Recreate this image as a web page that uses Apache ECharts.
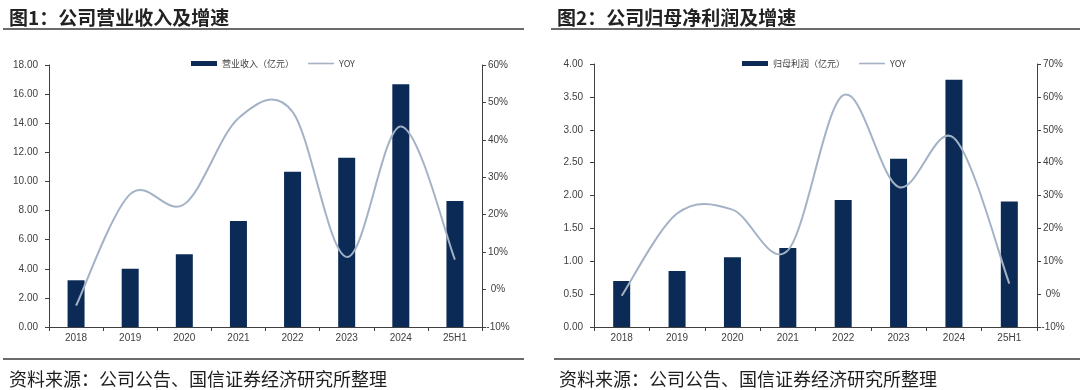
<!DOCTYPE html>
<html>
<head>
<meta charset="utf-8">
<script src="https://cdn.jsdelivr.net/npm/echarts@6/dist/echarts.min.js"></script>
<style>
html,body{margin:0;padding:0;background:#fff;}
#c{width:1080px;height:390px;}
</style>
</head>
<body>
<div id="c"></div>
<script>
const categories = ['2018','2019','2020','2021','2022','2023','2024','25H1'];
const revenue = [3.21, 4.01, 5.00, 7.29, 10.66, 11.63, 16.67, 8.65];
const revenueYoy = [-4.3, 25.5, 22.8, 45.8, 47.5, 8.7, 43.6, 8.0];
const profit = [0.70, 0.85, 1.06, 1.20, 1.93, 2.56, 3.76, 1.91];
const profitYoy = [-0.5, 24.5, 25.7, 13.3, 60.5, 32.6, 47.5, 3.2];
const title1 = '图1：公司营业收入及增速';
const title2 = '图2：公司归母净利润及增速';
const source = '资料来源：公司公告、国信证券经济研究所整理';
const barName1 = '营业收入（亿元）';
const barName2 = '归母利润（亿元）';
const lineName = 'YOY';

const BAR = '#0b2a56';
const LINE = '#a3b3c5';
const AX = '#404040';
const LAB = '#404040';
const LF = 'Liberation Sans, Arial, sans-serif';
const CJK = 'Noto Sans CJK SC';

function yLeft(grid, min, max, interval, digits){
  return {type:'value', gridIndex:grid, min:min, max:max, interval:interval, position:'left',
    axisLine:{show:true, lineStyle:{color:AX, width:1}},
    axisTick:{show:true, length:4, lineStyle:{color:AX}},
    splitLine:{show:false},
    axisLabel:{color:LAB, fontFamily:LF, fontSize:10, margin:11, formatter:v=>v.toFixed(digits)}};
}
function yRight(grid, min, max, interval){
  return {type:'value', gridIndex:grid, min:min, max:max, interval:interval, position:'right',
    axisLine:{show:true, lineStyle:{color:AX, width:1}},
    axisTick:{show:true, length:4, lineStyle:{color:AX}},
    splitLine:{show:false},
    axisLabel:{color:LAB, fontFamily:LF, fontSize:10, margin:16, align:'center', formatter:v=>v+'%'}};
}
function xAx(grid){
  return {type:'category', gridIndex:grid, data:categories, boundaryGap:true,
    axisLine:{show:true, lineStyle:{color:AX, width:1}},
    axisTick:{show:true, length:4, alignWithLabel:false, lineStyle:{color:AX}},
    axisLabel:{color:LAB, fontFamily:LF, fontSize:10, margin:6}};
}

// Smooth (Catmull-Rom style) curve through the data points, via the axes' scales
function smoothRender(params, api){
  const i = params.dataIndexInside;
  const n = params.dataInsideLength;
  if (i >= n - 1) return null;
  const pt = k => api.coord([api.value(0, k), api.value(1, k)]);
  const p1 = pt(i), p2 = pt(i + 1);
  const p0 = i > 0 ? pt(i - 1) : p1;
  const p3 = i + 2 < n ? pt(i + 2) : p2;
  return {
    type:'bezierCurve',
    shape:{
      x1:p1[0], y1:p1[1], x2:p2[0], y2:p2[1],
      cpx1:p1[0] + (p2[0] - p0[0]) / 6, cpy1:p1[1] + (p2[1] - p0[1]) / 6,
      cpx2:p2[0] - (p3[0] - p1[0]) / 6, cpy2:p2[1] - (p3[1] - p1[1]) / 6
    },
    style:{stroke:LINE, lineWidth:2, fill:null}
  };
}
function lineSeries(xi, yi, vals){
  return {name:lineName, type:'custom', xAxisIndex:xi, yAxisIndex:yi, z:5, clip:false,
    data:vals.map((v, k) => [k, v]), encode:{x:0, y:1},
    renderItem:smoothRender, itemStyle:{color:LINE}};
}

const lineIcon = 'path://M0 0H26V1.6H0Z';

const chart = echarts.init(document.getElementById('c'));
chart.setOption({
  animation:false,
  backgroundColor:'#fff',
  title:[
    {text:title1, left:4, top:3, textStyle:{fontFamily:CJK, fontSize:19, fontWeight:'bold', color:'#222'}},
    {text:title2, left:552, top:3, textStyle:{fontFamily:CJK, fontSize:19, fontWeight:'bold', color:'#222'}},
    {text:source, left:4, top:365, textStyle:{fontFamily:CJK, fontSize:18, fontWeight:'normal', color:'#1e1e1e'}},
    {text:source, left:554, top:365, textStyle:{fontFamily:CJK, fontSize:18, fontWeight:'normal', color:'#1e1e1e'}}
  ],
  legend:[
    {left:186, top:54, itemWidth:26, itemHeight:5, itemGap:14, data:[{name:barName1, icon:'rect'}, {name:lineName, icon:lineIcon}],
     textStyle:{fontFamily:CJK, fontSize:9, color:'#404040'}},
    {left:737, top:54, itemWidth:26, itemHeight:5, itemGap:14, data:[{name:barName2, icon:'rect'}, {name:lineName, icon:lineIcon}],
     textStyle:{fontFamily:CJK, fontSize:9, color:'#404040'}}
  ],
  grid:[
    {left:49, top:65, width:433, height:262},
    {left:594, top:64, width:443, height:263}
  ],
  xAxis:[xAx(0), xAx(1)],
  yAxis:[yLeft(0,0,18,2,2), yRight(0,-10,60,10), yLeft(1,0,4,0.5,2), yRight(1,-10,70,10)],
  series:[
    {name:barName1, type:'bar', xAxisIndex:0, yAxisIndex:0, data:revenue, barWidth:17, itemStyle:{color:BAR}},
    lineSeries(0, 1, revenueYoy),
    {name:barName2, type:'bar', xAxisIndex:1, yAxisIndex:2, data:profit, barWidth:17, itemStyle:{color:BAR}},
    lineSeries(1, 3, profitYoy)
  ],
  graphic:[
    {type:'line', shape:{x1:3, y1:29, x2:524, y2:29}, style:{stroke:'#6b6b6b', lineWidth:2}},
    {type:'line', shape:{x1:551, y1:29, x2:1080, y2:29}, style:{stroke:'#6b6b6b', lineWidth:2}},
    {type:'line', shape:{x1:3, y1:359, x2:524, y2:359}, style:{stroke:'#6b6b6b', lineWidth:2}},
    {type:'line', shape:{x1:554, y1:359, x2:1080, y2:359}, style:{stroke:'#6b6b6b', lineWidth:2}}
  ]
});
</script>
</body>
</html>
